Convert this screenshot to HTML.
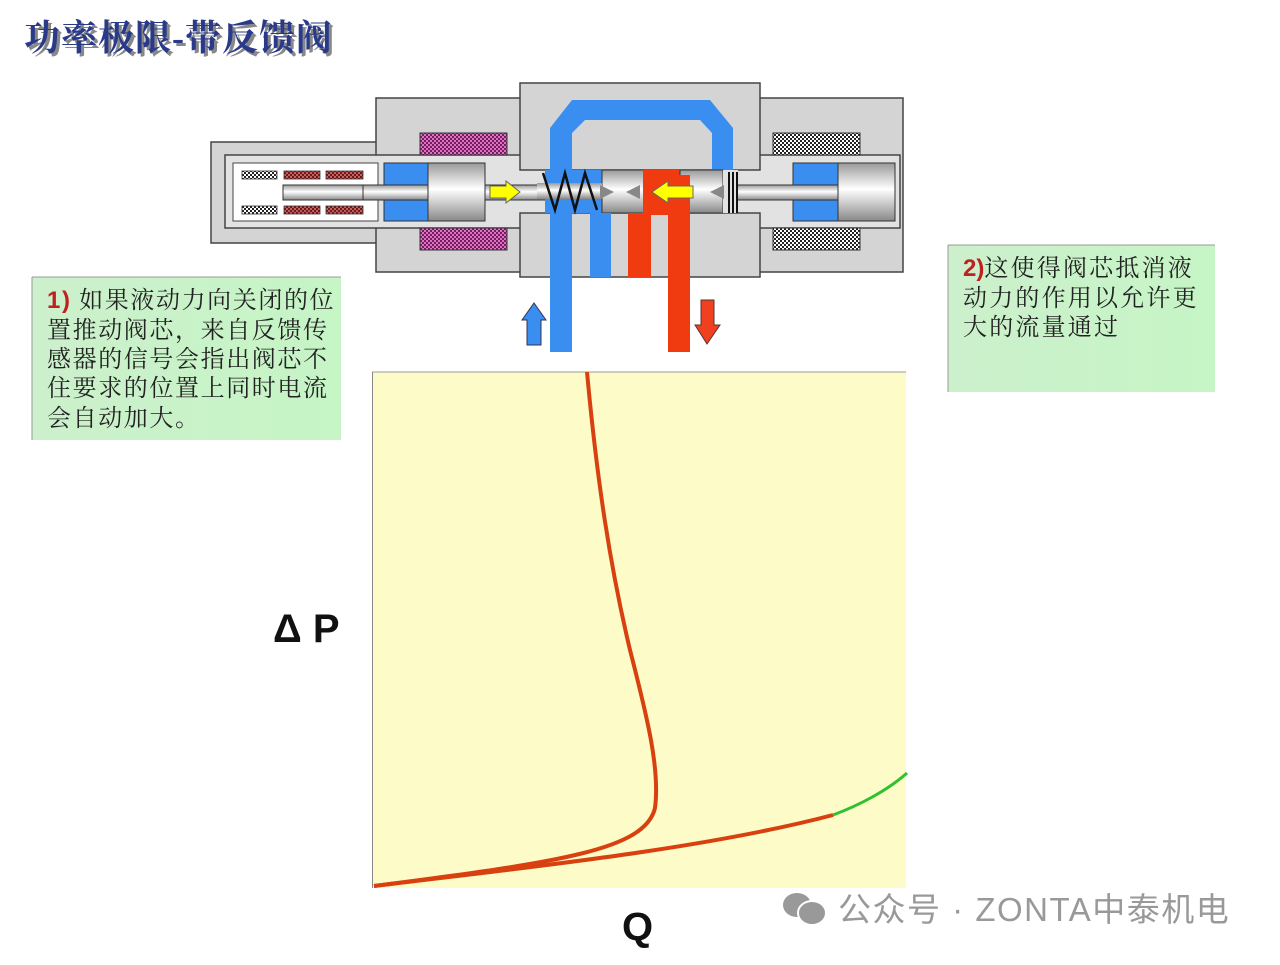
<!DOCTYPE html>
<html><head><meta charset="utf-8"><style>
body{margin:0;background:#fff;width:1280px;height:960px;overflow:hidden}
svg text{font-family:"Liberation Serif","Noto Serif CJK SC",serif}
</style></head><body>
<svg width="1280" height="960" viewBox="0 0 1280 960" xmlns="http://www.w3.org/2000/svg">
<defs>
<pattern id="chk" width="4" height="4" patternUnits="userSpaceOnUse"><rect width="4" height="4" fill="#fff"/><rect width="2" height="2" fill="#222"/><rect x="2" y="2" width="2" height="2" fill="#222"/></pattern>
<pattern id="mag" width="4" height="4" patternUnits="userSpaceOnUse"><rect width="4" height="4" fill="#e070c0"/><rect width="2" height="2" fill="#702060"/><rect x="2" y="2" width="2" height="2" fill="#702060"/></pattern>
<pattern id="red" width="4" height="4" patternUnits="userSpaceOnUse"><rect width="4" height="4" fill="#c06060"/><rect width="2" height="2" fill="#701818"/><rect x="2" y="2" width="2" height="2" fill="#701818"/></pattern>
<linearGradient id="cyl" x1="0" y1="0" x2="0" y2="1"><stop offset="0" stop-color="#999"/><stop offset="0.45" stop-color="#fff"/><stop offset="1" stop-color="#888"/></linearGradient>
<linearGradient id="gb" x1="0" y1="0" x2="1" y2="0"><stop offset="0" stop-color="#ccf0cc"/><stop offset="1" stop-color="#c6f5c6"/></linearGradient>
</defs>
<text x="27" y="53" font-size="36" font-weight="bold" fill="#888" letter-spacing="1" style="font-family:'Liberation Serif','Noto Serif CJK SC',serif">功率极限-带反馈阀</text>
<text x="24" y="50" font-size="36" font-weight="bold" fill="#2a3a8a" letter-spacing="1" style="font-family:'Liberation Serif','Noto Serif CJK SC',serif">功率极限-带反馈阀</text>

<rect x="211" y="142" width="170" height="101" fill="#d4d4d4" stroke="#444" stroke-width="1.5"/>
<rect x="376" y="98" width="150" height="174" fill="#d4d4d4" stroke="#444" stroke-width="1.5"/>
<rect x="755" y="98" width="148" height="174" fill="#d4d4d4" stroke="#444" stroke-width="1.5"/>
<rect x="225" y="155" width="675" height="73" fill="#e2e2e2" stroke="#444" stroke-width="1.5"/>
<rect x="233" y="163" width="145" height="58" fill="#fff" stroke="#444"/>
<rect x="242" y="171" width="35" height="8" fill="url(#chk)" stroke="#333" stroke-width=".8"/>
<rect x="284" y="171" width="36" height="8" fill="url(#red)" stroke="#333" stroke-width=".8"/>
<rect x="326" y="171" width="37" height="8" fill="url(#red)" stroke="#333" stroke-width=".8"/>
<rect x="242" y="206" width="35" height="8" fill="url(#chk)" stroke="#333" stroke-width=".8"/>
<rect x="284" y="206" width="36" height="8" fill="url(#red)" stroke="#333" stroke-width=".8"/>
<rect x="326" y="206" width="37" height="8" fill="url(#red)" stroke="#333" stroke-width=".8"/>
<rect x="420" y="133" width="87" height="22" fill="url(#mag)" stroke="#333"/>
<rect x="420" y="228" width="87" height="22" fill="url(#mag)" stroke="#333"/>
<rect x="773" y="133" width="87" height="22" fill="url(#chk)" stroke="#333"/>
<rect x="773" y="228" width="87" height="22" fill="url(#chk)" stroke="#333"/>
<rect x="384" y="163" width="45" height="58" fill="#3a8ef0" stroke="#333"/>
<rect x="793" y="163" width="45" height="58" fill="#3a8ef0" stroke="#333"/>
<rect x="283" y="185" width="80" height="15" fill="url(#cyl)" stroke="#333"/>
<rect x="363" y="185" width="250" height="15" fill="url(#cyl)" stroke="#333"/>
<rect x="700" y="185" width="140" height="15" fill="url(#cyl)" stroke="#333"/>
<rect x="428" y="163" width="57" height="58" fill="url(#cyl)" stroke="#333"/>
<rect x="838" y="163" width="57" height="58" fill="url(#cyl)" stroke="#333"/>
<rect x="520" y="83" width="240" height="87" fill="#d4d4d4" stroke="#444" stroke-width="1.5"/>
<rect x="520" y="213" width="240" height="64" fill="#d4d4d4" stroke="#444" stroke-width="1.5"/>
<path d="M550 170 V128 L572 100 H710 L733 128 V170 H712 V133 L700 120 H585 L572 133 V170 Z" fill="#3a8ef0"/>
<rect x="545" y="170" width="57" height="43" fill="#3a8ef0"/>
<rect x="602" y="170" width="42" height="43" fill="url(#cyl)" stroke="#333"/>
<rect x="643" y="170" width="37" height="45" fill="#f03a10"/>
<rect x="680" y="170" width="43" height="43" fill="url(#cyl)" stroke="#333"/>
<rect x="723" y="170" width="15" height="43" fill="#e2e2e2"/>
<rect x="537" y="183" width="65" height="16" fill="url(#cyl)"/>
<rect x="550" y="213" width="22" height="139" fill="#3a8ef0"/>
<rect x="590" y="213" width="21" height="64" fill="#3a8ef0"/>
<rect x="628" y="213" width="23" height="64" fill="#f03a10"/>
<rect x="668" y="175" width="22" height="177" fill="#f03a10"/>
<polyline points="543,173 555,210 565,173 575,210 585,173 597,210" fill="none" stroke="#111" stroke-width="2.5"/>
<g stroke="#111" stroke-width="2"><line x1="729" y1="172" x2="729" y2="213"/><line x1="733" y1="172" x2="733" y2="213"/><line x1="737" y1="172" x2="737" y2="213"/></g>
<polygon points="600,185 614,192 600,199" fill="#888"/>
<polygon points="640,185 626,192 640,199" fill="#888"/>
<polygon points="724,185 710,192 724,199" fill="#888"/>
<polygon points="490,186 506,186 506,181 520,192 506,203 506,198 490,198" fill="#ffff00" stroke="#666"/>
<polygon points="693,186 668,186 668,181 652,192 668,203 668,198 693,198" fill="#ffff00" stroke="#666"/>
<polygon points="527,320 522,320 534,303 546,320 541,320 541,345 527,345" fill="#3a8ef0" stroke="#335"/>
<polygon points="701,300 714,300 714,325 720,325 707,344 695,325 701,325" fill="#f04020" stroke="#533"/>

<rect x="32" y="277" width="309" height="163" fill="url(#gb)"/>
<line x1="32" y1="277" x2="341" y2="277" stroke="#999"/><line x1="32" y1="277" x2="32" y2="440" stroke="#999"/>
<g font-size="24" fill="#222" letter-spacing="1.6">
<text x="47" y="308"><tspan fill="#c02020" font-weight="bold" style="font-family:'Liberation Sans',sans-serif">1)</tspan> 如果液动力向关闭的位</text>
<text x="47" y="338">置推动阀芯，来自反馈传</text>
<text x="47" y="367">感器的信号会指出阀芯不</text>
<text x="47" y="396">住要求的位置上同时电流</text>
<text x="47" y="426">会自动加大。</text>
</g>
<rect x="948" y="245" width="267" height="147" fill="url(#gb)"/>
<line x1="948" y1="245" x2="1215" y2="245" stroke="#999"/><line x1="948" y1="245" x2="948" y2="392" stroke="#999"/>
<g font-size="24" fill="#222" letter-spacing="2.2">
<text x="963" y="276"><tspan fill="#c02020" font-weight="bold" letter-spacing="0" style="font-family:'Liberation Sans',sans-serif">2)</tspan>这使得阀芯抵消液</text>
<text x="963" y="306">动力的作用以允许更</text>
<text x="963" y="335">大的流量通过</text>
</g>

<rect x="372" y="372" width="534" height="516" fill="#fdfcc8"/>
<line x1="372" y1="372" x2="906" y2="372" stroke="#999"/><line x1="372.5" y1="372" x2="372.5" y2="888" stroke="#888"/>
<path d="M587 372 C597 480 610 566 630 650 C648 720 660 770 655 808 C645 850 560 862 374 886" fill="none" stroke="#d84010" stroke-width="4"/>
<path d="M374 886 C520 868 700 850 833 815" fill="none" stroke="#d84010" stroke-width="4"/>
<path d="M833 815 C860 805 888 790 907 773" fill="none" stroke="#30c030" stroke-width="3"/>
<text x="273" y="642" font-size="40" font-weight="bold" fill="#111" style="font-family:'Liberation Sans',sans-serif">Δ P</text>
<text x="622" y="940" font-size="40" font-weight="bold" fill="#111" style="font-family:'Liberation Sans',sans-serif">Q</text>

<ellipse cx="797" cy="905" rx="14" ry="12" fill="#999"/>
<ellipse cx="812" cy="913" rx="14" ry="12" fill="#999" stroke="#fff" stroke-width="2"/>
<text x="838" y="921" font-size="33" fill="#999" letter-spacing="1.5" style="font-family:'Liberation Sans','Noto Sans CJK SC',sans-serif">公众号 · ZONTA中泰机电</text>
</svg>
</body></html>
